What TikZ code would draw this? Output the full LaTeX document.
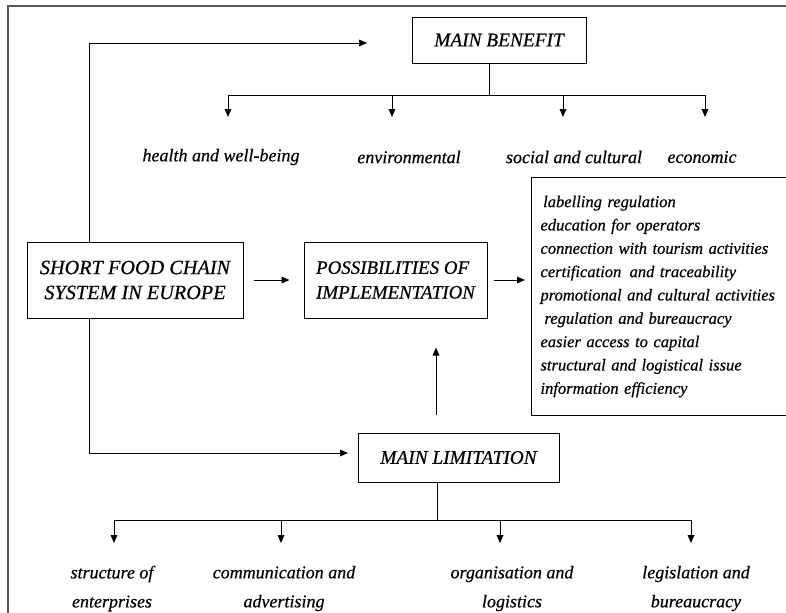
\documentclass[tikz,border=0pt]{standalone}
\usepackage{fontspec}
\setmainfont{Liberation Serif}[ItalicFeatures={FakeBold=0.5}]
\usetikzlibrary{arrows.meta}

\begin{document}
\begin{tikzpicture}[x=0.75pt,y=-0.75pt,
  box/.style={draw,line width=0.75pt,inner sep=0pt,font=\fontsize{14.5}{18.5}\selectfont\itshape},
  lbl/.style={align=center,font=\fontsize{13.5}{21.75}\selectfont\itshape},
  tip/.style={-{Triangle[length=6pt,width=5pt]},line width=0.75pt}]
\useasboundingbox (0,0) rectangle (786,612);
\clip (0,0) rectangle (786,612);
% outer frame
\draw[line width=1.5pt,black!65] (7.5,6) rectangle (820,640);
% boxes
\node[box,minimum width=130.5pt,minimum height=34.5pt] (mb) at (499,40) {MAIN BENEFIT};
\node[box,minimum width=162pt,minimum height=57pt,align=center,font=\fontsize{15.2}{18.75}\selectfont\itshape] (sfc) at (135,280) {SHORT FOOD CHAIN\\SYSTEM IN EUROPE};
\node[box,minimum width=137.25pt,minimum height=57pt,align=left,font=\fontsize{14.2}{18.5}\selectfont\itshape] (poss) at (395.5,280) {POSSIBILITIES OF\\IMPLEMENTATION};
\node[box,minimum width=150.75pt,minimum height=36.75pt] (ml) at (458.5,457.5) {MAIN LIMITATION};
\node[draw,line width=0.75pt,anchor=north west,minimum height=178.5pt,inner xsep=6.75pt,inner ysep=0pt,
  text width=196.5pt,align=left,font=\fontsize{12.4}{17.5}\selectfont\itshape] (list) at (531,177)
  {\hspace*{2pt}labelling regulation\\
   education for operators\\
   connection with tourism activities\\
   certification\, and traceability\\
   promotional and cultural activities\\
   \hspace*{3pt}regulation and bureaucracy\\
   easier access to capital\\
   structural and logistical issue\\
   information efficiency};
% left line to benefit and limitation
\coordinate (lt) at (89,43);
\coordinate (mbin) at (367,43);
\coordinate (lb) at (89,453);
\coordinate (mlin) at (348,453);
\draw[tip] (lt |- sfc.north) -- (lt) -- (mbin);
\draw[tip] (lb |- sfc.south) -- (lb) -- (mlin);
% middle row
\draw[tip,shorten <=7.5pt,shorten >=10.5pt] (sfc.east) -- (poss.west);
\draw[tip,shorten <=4.5pt,shorten >=4.5pt] (poss.east) -- (list.west |- poss.east);
\coordinate (up) at (436,415);
\draw[tip,shorten >=21.75pt] (up) -- (up |- poss.south);
% benefits
\coordinate (tbar) at (489,95);
\draw (tbar |- mb.south) -- (tbar);
\draw (228,95) -- (705,95);
\foreach \x/\lx/\t [count=\i] in {228/221/health and well-being, 392/409/environmental,
    563/574/social and cultural, 705/702/economic} {
  \coordinate (bt\i) at (\x,117);
  \draw[tip] (bt\i |- tbar) -- (bt\i);
  \node[lbl] (ben\i) at (\lx,157) {\t};
}
% limitations
\coordinate (bbar) at (437,520);
\draw (bbar |- ml.south) -- (bbar);
\draw (114,520) -- (691,520);
\foreach \x/\lx/\t [count=\i] in {114/112/structure of\\enterprises, 281/284/communication and\\advertising,
    500/512/organisation and\\logistics, 691/696/legislation and\\bureaucracy} {
  \coordinate (lt\i) at (\x,543);
  \draw[tip] (lt\i |- bbar) -- (lt\i);
  \node[lbl] (lim\i) at (\lx,588.5) {\t};
}
\end{tikzpicture}
\end{document}
